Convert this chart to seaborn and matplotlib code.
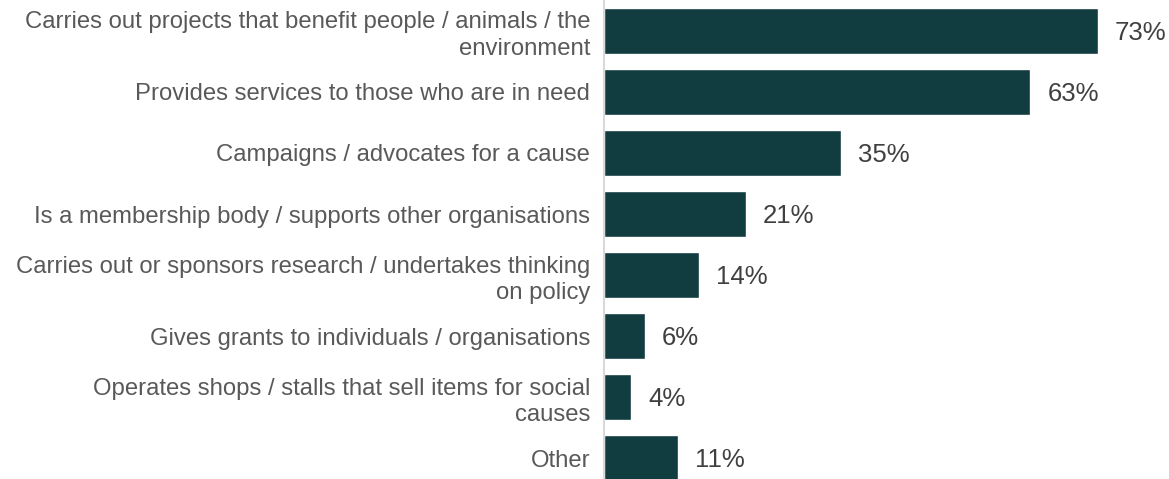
import matplotlib
matplotlib.use("Agg")
import matplotlib.pyplot as plt
import seaborn as sns
import pandas as pd

categories = [
    "Carries out projects that benefit people / animals / the\nenvironment",
    "Provides services to those who are in need",
    "Campaigns / advocates for a cause",
    "Is a membership body / supports other organisations",
    "Carries out or sponsors research / undertakes thinking\non policy",
    "Gives grants to individuals / organisations",
    "Operates shops / stalls that sell items for social\ncauses",
    "Other",
]
values = [73, 63, 35, 21, 14, 6, 4, 11]

sns.set_theme(style="white")
plt.rcParams["font.family"] = ["Liberation Sans", "DejaVu Sans"]

df = pd.DataFrame({"category": categories, "value": values})

fig = plt.figure(figsize=(11.69, 4.79), dpi=100)
ax = fig.add_axes([604 / 1169, 0.0, 541.4 / 1169, 1.0])

sns.barplot(data=df, x="value", y="category", orient="h", color="#113D40",
            saturation=1, width=0.75, ax=ax)

ax.set_xlim(0, 80)
ax.set_ylim(7.344, -0.508)

for i, v in enumerate(values):
    ax.text(v + 2.5, i + 0.03, f"{v}%", va="center", ha="left", fontsize=18.5,
            color="#404040", clip_on=False)

ax.set_xlabel("")
ax.set_ylabel("")
ax.set_xticks([])
ax.tick_params(axis="y", length=0, pad=10, labelsize=17.2, labelcolor="#595959")
for lbl in ax.get_yticklabels():
    lbl.set_linespacing(1.27)

for side in ["top", "right", "bottom"]:
    ax.spines[side].set_visible(False)
ax.spines["left"].set_color("#d9d9d9")
ax.spines["left"].set_linewidth(1.5)

fig.savefig("out.png", dpi=100)
